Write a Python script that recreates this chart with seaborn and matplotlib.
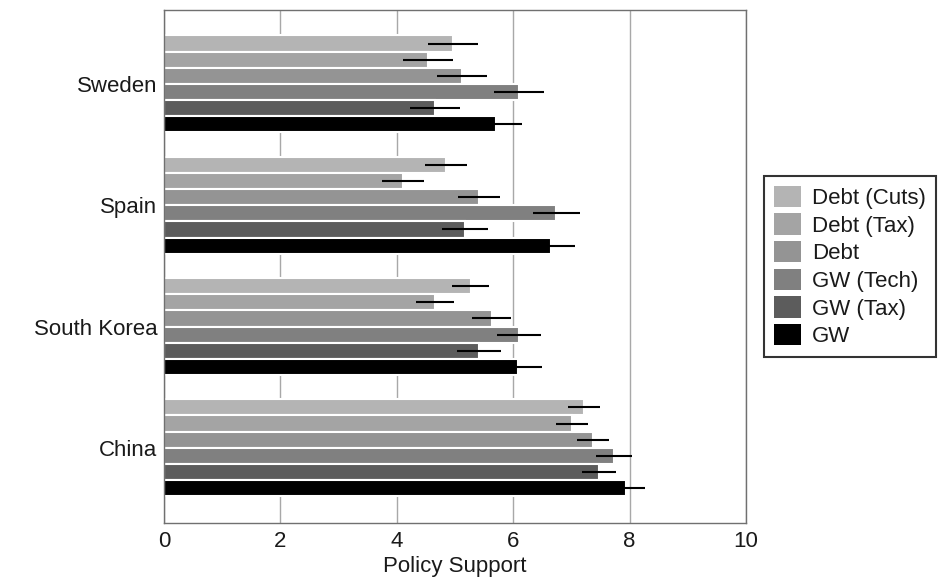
import numpy as np
import pandas as pd
import matplotlib
matplotlib.use('Agg')
import matplotlib.pyplot as plt
import seaborn as sns

# data
countries = ['Sweden', 'Spain', 'South Korea', 'China']
conditions = ['Debt (Cuts)', 'Debt (Tax)', 'Debt', 'GW (Tech)', 'GW (Tax)', 'GW']

debt_cuts = [4.97, 4.85, 5.27, 7.22]
debt_tax = [4.54, 4.11, 4.66, 7.01]
debt = [5.12, 5.41, 5.63, 7.37]
gw_tech = [6.10, 6.74, 6.10, 7.73]
gw_tax = [4.66, 5.17, 5.41, 7.47]
gw = [5.70, 6.65, 6.08, 7.94]

err_debt_cuts = [0.43, 0.36, 0.32, 0.27]
err_debt_tax = [0.43, 0.36, 0.33, 0.28]
err_debt = [0.43, 0.36, 0.33, 0.27]
err_gw_tech = [0.43, 0.40, 0.37, 0.31]
err_gw_tax = [0.43, 0.40, 0.38, 0.29]
err_gw = [0.45, 0.41, 0.41, 0.33]

means = [debt_cuts, debt_tax, debt, gw_tech, gw_tax, gw]
errs = [err_debt_cuts, err_debt_tax, err_debt, err_gw_tech, err_gw_tax, err_gw]

greys = ['#b4b4b4', '#a4a4a4', '#949494', '#808080', '#5c5c5c', '#000000']

rows = []
for cond, vals, ev in zip(conditions, means, errs):
    for c, v, e in zip(countries, vals, ev):
        rows.append({'country': c, 'condition': cond, 'support': v, 'err': e})
df = pd.DataFrame(rows)

sns.set_style('white')
plt.rcParams['font.family'] = ['Liberation Sans', 'DejaVu Sans']

fig, ax = plt.subplots(figsize=(9.43, 5.85), dpi=100)
fig.subplots_adjust(left=0.174, right=0.791, top=0.983, bottom=0.106)

sns.barplot(data=df, y='country', x='support', hue='condition',
            order=countries, hue_order=conditions, palette=greys,
            orient='h', errorbar=None, width=0.8,
            edgecolor='white', linewidth=1.5, saturation=1, ax=ax)

# error bars at the end of each bar
for cont, ev in zip(ax.containers, errs):
    xs = [b.get_width() for b in cont]
    ys = [b.get_y() + b.get_height() / 2 for b in cont]
    ax.errorbar(xs, ys, xerr=ev, fmt='none', ecolor='black',
                elinewidth=1.5, capsize=0, zorder=5)

ax.set_xlim(0, 10)
ax.set_xticks([0, 2, 4, 6, 8, 10])
ax.set_ylim(3.62, -0.61)
ax.xaxis.grid(True, color='#a8a8a8', linewidth=1)
ax.yaxis.grid(False)
ax.set_axisbelow(True)
for s in ax.spines.values():
    s.set_visible(True)
    s.set_color('#707070')
    s.set_linewidth(1)
ax.tick_params(axis='both', length=0, labelsize=16, colors='#1a1a1a')
ax.tick_params(axis='x', pad=6)
ax.tick_params(axis='y', pad=5)
ax.set_xlabel('Policy Support', fontsize=16, labelpad=3, color='#1a1a1a')
ax.set_ylabel('')

sns.move_legend(ax, 'center left', bbox_to_anchor=(1.031, 0.5), title=None,
                frameon=True, fancybox=False, fontsize=16, borderaxespad=0,
                handlelength=1.2, handleheight=1.1, labelspacing=0.2,
                handletextpad=0.5, borderpad=0.45)
leg = ax.get_legend()
leg.get_frame().set_edgecolor('black')
leg.get_frame().set_linewidth(1.5)
for h in leg.legend_handles:
    h.set_edgecolor('none')
for t in leg.get_texts():
    t.set_color('#1a1a1a')

fig.savefig('out.png', dpi=100)
